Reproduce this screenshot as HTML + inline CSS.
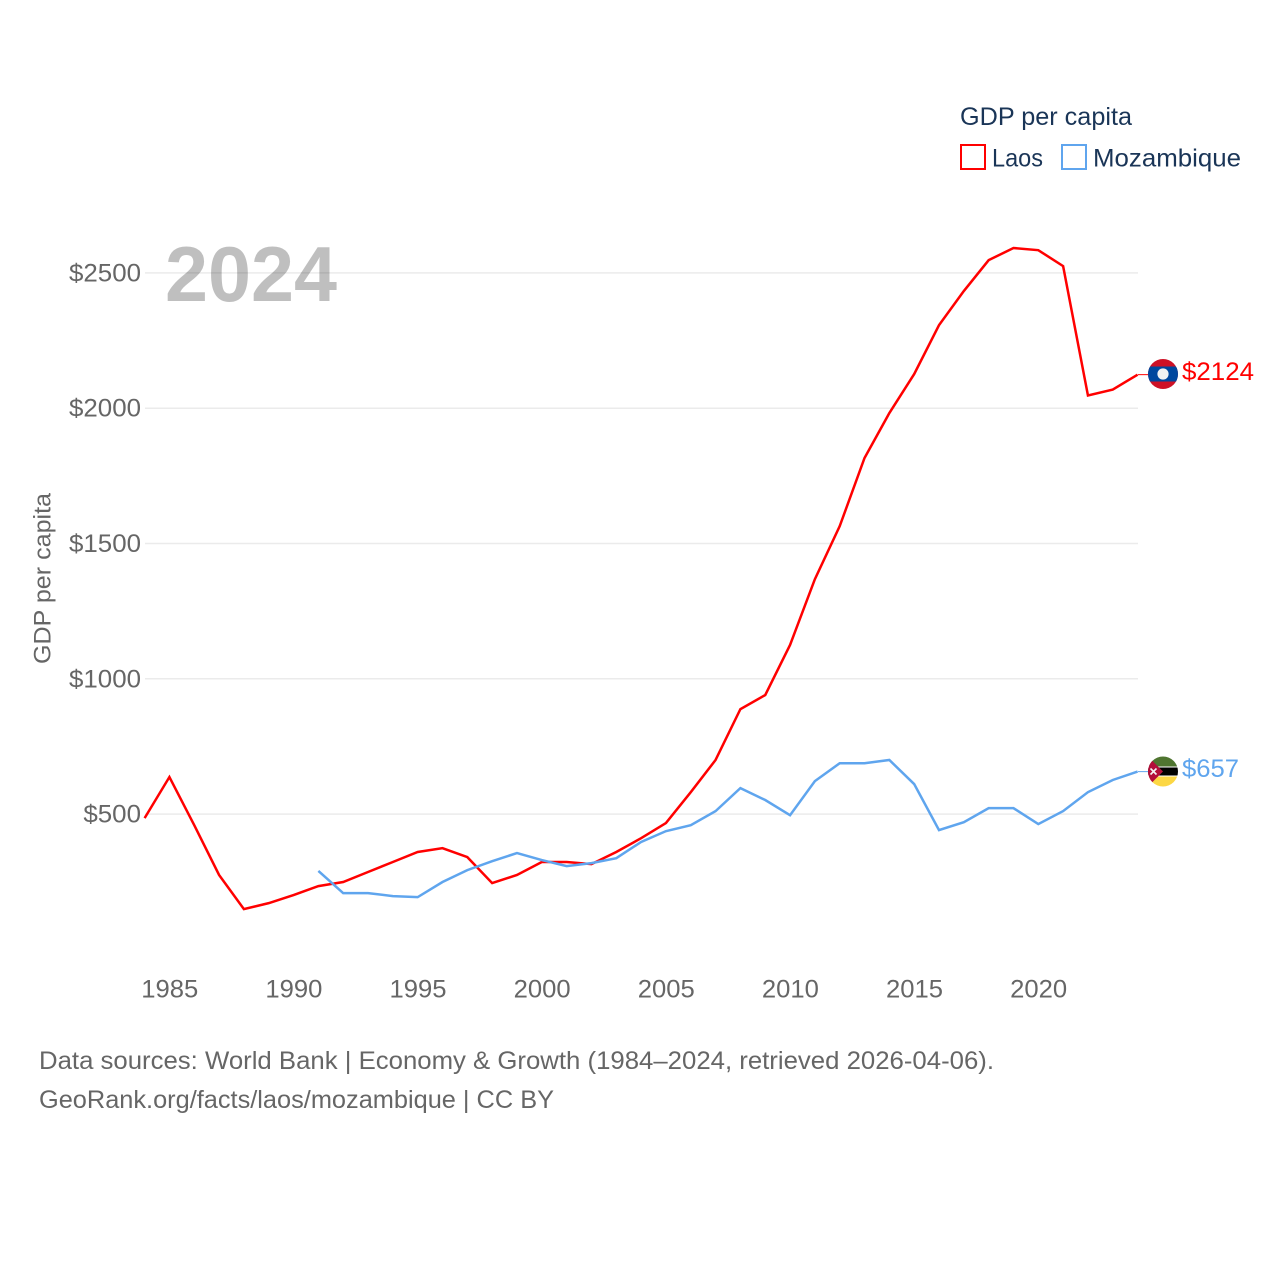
<!DOCTYPE html>
<html lang="en">
<head>
<meta charset="utf-8">
<title>GDP per capita: Laos and Mozambique</title>
<style>
html,body{margin:0;padding:0;background:#fff;width:1280px;height:1280px;overflow:hidden}
svg{display:block}
text{font-family:"Liberation Sans",sans-serif}
</style>
</head>
<body>
<svg id="chart" width="1280" height="1280" viewBox="0 0 1280 1280" xmlns="http://www.w3.org/2000/svg">
  <defs>
    <clipPath id="laos-clip"><circle cx="1163" cy="374" r="15"/></clipPath>
    <clipPath id="moz-clip"><circle cx="1163" cy="771.5" r="15"/></clipPath>
  </defs>
  <g id="grid"></g>
  <g id="yticks"></g>
  <g id="xticks"></g>
  <text transform="translate(50.5,578.5) rotate(-90)" text-anchor="middle" font-size="24" fill="#666666" textLength="171" lengthAdjust="spacingAndGlyphs">GDP per capita</text>
  <text x="165" y="301" font-size="78" font-weight="700" fill="#000" fill-opacity="0.25" textLength="172" lengthAdjust="spacingAndGlyphs">2024</text>
  <g id="series"></g>

  <g>
    <text x="960" y="125" font-size="25" fill="#1a3557" textLength="172" lengthAdjust="spacingAndGlyphs">GDP per capita</text>
    <rect x="961" y="145" width="24" height="24" fill="none" stroke="#ff0000" stroke-width="2"/>
    <text x="992" y="166.5" font-size="25" fill="#1a3557" textLength="51" lengthAdjust="spacingAndGlyphs">Laos</text>
    <rect x="1062" y="145" width="24" height="24" fill="none" stroke="#5fa5ee" stroke-width="2"/>
    <text x="1093" y="166.5" font-size="25" fill="#1a3557" textLength="148" lengthAdjust="spacingAndGlyphs">Mozambique</text>
  </g>

  <g clip-path="url(#laos-clip)">
    <rect x="1148" y="359" width="30" height="30" fill="#ce1126"/>
    <rect x="1148" y="366.5" width="30" height="15" fill="#00479e"/>
    <circle cx="1163" cy="374" r="5.6" fill="#f2f2f2"/>
  </g>
  <g clip-path="url(#moz-clip)">
    <rect x="1148" y="756.5" width="30" height="10" fill="#4f7530"/>
    <rect x="1148" y="766.5" width="30" height="10" fill="#ffffff"/>
    <rect x="1148" y="767.5" width="30" height="8" fill="#000000"/>
    <rect x="1148" y="776.5" width="30" height="10" fill="#fcd744"/>
    <polygon points="1148,756.5 1163,771.5 1148,786.5" fill="#b30f3a"/>
    <path d="M1150.5 768.5l6 6M1156.5 768.5l-6 6" stroke="#f4f4f4" stroke-width="1.6"/>
  </g>

  <g>
    <text x="39" y="1069" font-size="25" fill="#666666" textLength="955" lengthAdjust="spacingAndGlyphs">Data sources: World Bank | Economy &amp; Growth (1984–2024, retrieved 2026-04-06).</text>
    <text x="39" y="1108" font-size="25" fill="#666666" textLength="515" lengthAdjust="spacingAndGlyphs">GeoRank.org/facts/laos/mozambique | CC BY</text>
  </g>
</svg>
<script>
const years = [1984,1985,1986,1987,1988,1989,1990,1991,1992,1993,1994,1995,1996,1997,1998,1999,2000,2001,2002,2003,2004,2005,2006,2007,2008,2009,2010,2011,2012,2013,2014,2015,2016,2017,2018,2019,2020,2021,2022,2023,2024];
const laosValues = [485,637,459,275,149,171,201,234,249,286,323,360,374,341,245,275,323,323,315,360,411,467,581,700,888,940,1125,1368,1564,1816,1982,2126,2307,2433,2547,2592,2584,2525,2047,2069,2124];
const mozambiqueValues = [null,null,null,null,null,null,null,290,208,208,197,193,249,293,326,356,330,308,319,337,397,437,459,511,596,552,496,622,688,688,700,611,441,470,522,522,463,511,581,626,657];
const yTickValues = [500,1000,1500,2000,2500];
const yTickLabels = ["$500","$1000","$1500","$2000","$2500"];
const xTickValues = [1985,1990,1995,2000,2005,2010,2015,2020];
const xTickLabels = ["1985","1990","1995","2000","2005","2010","2015","2020"];

const NS = "http://www.w3.org/2000/svg";
function xScale(year){ return 144.6 + (year - 1984) * (1137.6 - 144.6) / 40; }
function yScale(value){ return 949.4 - value * 0.2706; }
function make(tag, attrs, parent){
  const el = document.createElementNS(NS, tag);
  for (const k in attrs) el.setAttribute(k, attrs[k]);
  parent.appendChild(el);
  return el;
}
const gridG = document.getElementById("grid");
const yG = document.getElementById("yticks");
const xG = document.getElementById("xticks");
const seriesG = document.getElementById("series");

yTickValues.forEach(function(v, i){
  const line = make("line", {x1:145, x2:1138, y1:yScale(v), y2:yScale(v), stroke:"#ebebeb", "stroke-width":1.5}, gridG);
  
  
  const label = yTickLabels[i];
  const t = make("text", {x:141, y:yScale(v)+8.5, "text-anchor":"end", "font-size":25, fill:"#666666", textLength:label.length*14.4, lengthAdjust:"spacingAndGlyphs"}, yG);
  t.textContent = label;
  
  
});
xTickValues.forEach(function(v, i){
  const t = make("text", {x:xScale(v)+0.4, y:997.5, "text-anchor":"middle", "font-size":25, fill:"#666666", textLength:57, lengthAdjust:"spacingAndGlyphs"}, xG);
  t.textContent = xTickLabels[i];
  
  
});
function pathFor(values){
  const pts = [];
  values.forEach(function(v, i){
    if (v !== null) pts.push(xScale(years[i]).toFixed(2) + "," + yScale(v).toFixed(2));
  });
  return pts.join(" ");
}
function lastOf(values){ return values[values.length - 1]; }

const laosLine = make("polyline", {points:pathFor(laosValues), fill:"none", stroke:"#ff0000", "stroke-width":2.5, "stroke-linejoin":"miter"}, seriesG);


const mozLine = make("polyline", {points:pathFor(mozambiqueValues), fill:"none", stroke:"#5fa5ee", "stroke-width":2.5, "stroke-linejoin":"miter"}, seriesG);



const laosLeader = make("line", {x1:1138, x2:1148, y1:yScale(lastOf(laosValues)), y2:yScale(lastOf(laosValues)), stroke:"#ff0000", "stroke-width":1}, seriesG);


const mozLeader = make("line", {x1:1138, x2:1148, y1:yScale(lastOf(mozambiqueValues)), y2:yScale(lastOf(mozambiqueValues)), stroke:"#5fa5ee", "stroke-width":1}, seriesG);



const laosEnd = make("text", {x:1182, y:yScale(lastOf(laosValues))+5.5, "font-size":25, fill:"#ff0000", textLength:72, lengthAdjust:"spacingAndGlyphs"}, seriesG);
laosEnd.textContent = "$" + lastOf(laosValues);


const mozEnd = make("text", {x:1182, y:yScale(lastOf(mozambiqueValues))+5.5, "font-size":25, fill:"#5fa5ee", textLength:57, lengthAdjust:"spacingAndGlyphs"}, seriesG);
mozEnd.textContent = "$" + lastOf(mozambiqueValues);


</script>
</body>
</html>
